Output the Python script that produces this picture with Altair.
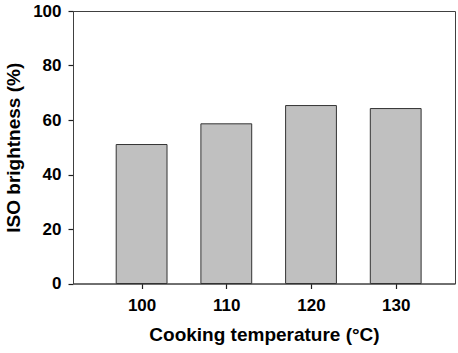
import altair as alt
import pandas as pd

temperature = [100, 110, 120, 130]
brightness = [51.0, 58.6, 65.3, 64.2]
x_ticks = [100, 110, 120, 130]
y_ticks = [0, 20, 40, 60, 80, 100]

df = pd.DataFrame({"temp": temperature, "bright": brightness})

FONT = "Liberation Sans"

chart = alt.Chart(df).transform_calculate(
    x0="datum.temp - 3", x1="datum.temp + 3"
).mark_bar(fill="#c0c0c0", stroke="#333333", strokeWidth=1).encode(
    x=alt.X("x0:Q", scale=alt.Scale(domain=[91.9, 137], nice=False, zero=False),
            axis=alt.Axis(values=x_ticks, title="Cooking temperature (°C)", grid=False,
                          ticks=True, tickColor="#202020", tickSize=5, tickWidth=1.2,
                          format="d", labelPadding=9, titlePadding=12)),
    x2="x1:Q",
    y=alt.Y("bright:Q", scale=alt.Scale(domain=[0, 100], nice=False),
            axis=alt.Axis(values=y_ticks, title="ISO brightness (%)", grid=False,
                          ticks=True, tickColor="#202020", tickSize=5, tickWidth=1.2,
                          labelPadding=7, titlePadding=9)),
    y2=alt.datum(0),
).properties(
    width=382, height=272.5,
    autosize=alt.AutoSizeParams(type="none"),
    padding={"left": 73, "top": 11, "right": 3, "bottom": 69},
).configure_view(
    stroke="#404040", strokeWidth=1
).configure_axis(
    domainColor="#404040",
    labelFont=FONT, labelFontSize=17, labelFontWeight="bold", labelColor="black",
    titleFont=FONT, titleFontSize=19, titleFontWeight="bold", titleColor="black",
)

chart.save("out.html", embed_options={"renderer": "svg", "actions": False})
